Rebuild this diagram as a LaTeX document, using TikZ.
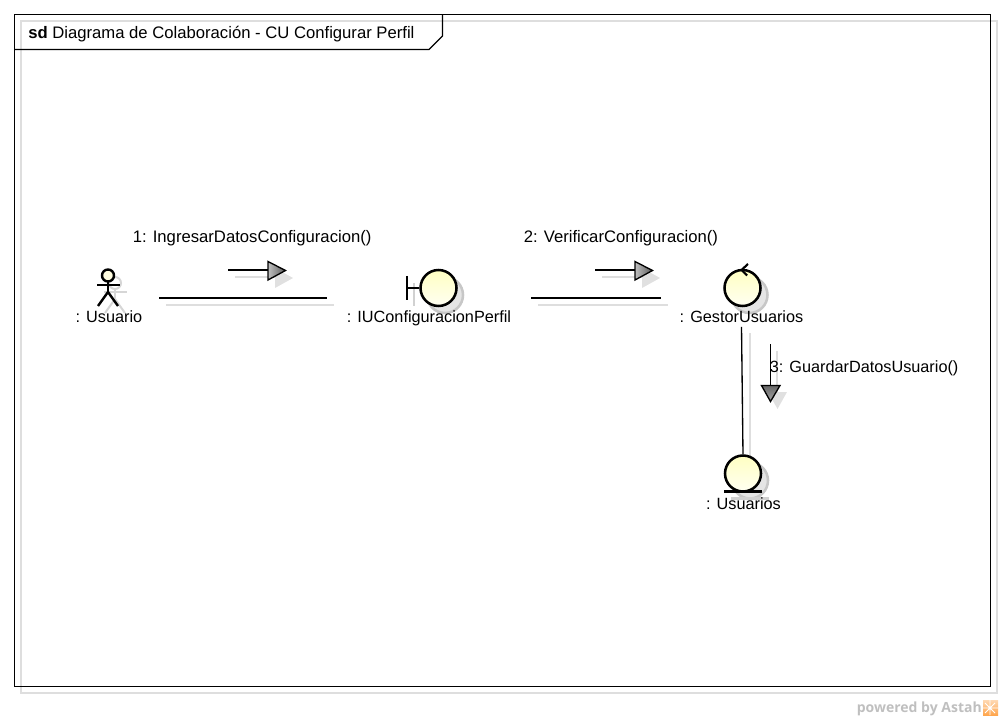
\documentclass[tikz,border=0pt]{standalone}
\usepackage{fontspec}
\setmainfont{Liberation Sans}
\newfontfamily\markfont{Open Sans}
\usetikzlibrary{shadings}
\tikzset{
  umlline/.style={line width=1pt,black},
  umlshadow/.style={line width=1pt,black!13},
  umlbox/.style={inner sep=0,outer sep=0,minimum height=1pt},
  umlicon/.style={circle,draw,line width=1.9pt,minimum size=27pt,inner sep=0,top color=yellow!24!white,bottom color=yellow!5!white},
  iconshadow/.style={circle,fill=black!10,draw=black!22,line width=1.9pt,minimum size=27pt,inner sep=0},
  umltext/.style={font=\fontsize{12.2pt}{14pt}\selectfont,inner sep=0,text depth=3pt},
  msgtext/.style={font=\fontsize{12.5pt}{14pt}\selectfont,inner sep=0,text depth=3pt,anchor=base west},
  msghead/.style={draw,line width=1pt},
  headshadow/.style={fill=black!12},
}
\begin{document}
\begin{tikzpicture}[x=.75pt,y=-.75pt]
  \useasboundingbox (0,0) rectangle (1003,720);
  % frame
  \draw[umlshadow] (21,21) rectangle (997,693);
  \draw[umlline] (14.5,14.5) rectangle (990.5,686.5);
  \draw[umlline] (14.5,49.5)--(429,49.5)--(442.5,36)--(442.5,14.5);
  \node[msgtext] (title) at (28,39) {\textbf{sd} Diagrama de Colaboración - CU Configurar Perfil};
  % boxes the links run between
  \node[umlbox,minimum width=75pt] (usuario) at (109,298) {};
  \node[umlbox,minimum width=153pt] (iu) at (429,298) {};
  \node[umlbox,minimum width=120.75pt] (gestor) at (741.5,298) {};
  % shadows
  \draw[umlshadow] ([shift={(7,7)}]usuario.east)--([shift={(7,7)}]iu.west);
  \draw[umlshadow] ([shift={(7,7)}]iu.east)--([shift={(7,7)}]gestor.west);
  \draw[umlshadow] (750,333)--(750,463);
  \foreach\x in {228,595} {
    \draw[umlshadow] (\x+7,277)--(\x+47,277);
    \fill[headshadow] (\x+47,268)--(\x+47,288)--(\x+65,278)--cycle;
  }
  \draw[umlshadow] (777,351)--(777,392);
  \fill[headshadow] (768,392)--(787,392)--(777.5,409)--cycle;
  \node[iconshadow] (iushadow) at (445,295) {};
  \node[iconshadow] (gestorshadow) at (749.5,295) {};
  \node[iconshadow] (usuariosshadow) at (750,480.5) {};
  \draw[line width=1.9pt,black!18] (414,283)--(414,306);
  \draw[line width=1.9pt,black!18] (731,498.5)--(769,498.5);
  \begin{scope}[black!16,line width=1.5pt]
    \draw (115,283) circle (6);
    \draw (115,289)--(115,299);
    \draw (104,292)--(127,292);
    \draw (105,313)--(115,299)--(125,313);
  \end{scope}
  % actor
  \begin{scope}[line width=1.8pt]
    \draw[fill=yellow!12] (108,275.5) circle (6);
    \draw (108,281.5)--(108,292);
    \draw (97,285)--(120,285);
    \draw (98,306)--(108,292)--(118,306);
  \end{scope}
  % boundary, control, entity
  \node[umlicon] (iuicon) at (438.5,288) {};
  \draw[line width=1.9pt] (iuicon.west)--(407,288);
  \draw[line width=1.9pt] (407,276)--(407,300);
  \node[umlicon] (gestoricon) at (742.5,288) {};
  \draw[line width=1.6pt] (748,264)--(741.5,270)--(747,275.5);
  \node[umlicon] (usuariosicon) at (743,473.5) {};
  \draw[line width=1.9pt] (724,491.5)--(762,491.5);
  % labels
  \node[umltext,anchor=base] (usuariotext) at (109,322.5) {: Usuario};
  \node[umltext,anchor=base] (iutext) at (429,322.5) {: IUConfiguracionPerfil};
  \node[umltext,anchor=base] (gestortext) at (741.5,322.5) {: GestorUsuarios};
  \node[umltext,anchor=base] (usuariostext) at (743.5,509.5) {: Usuarios};
  % links
  \draw[umlline] (usuario)--(iu);
  \draw[umlline] (iu)--(gestor);
  \draw[umlline] (gestortext.south)--(usuariosicon.north);
  % messages
  \foreach\x in {228,595} {
    \draw[umlline] (\x,270)--(\x+40,270);
    \draw[msghead,left color=black!25,right color=black!65] (\x+40,261.5)--(\x+40,280)--(\x+57.5,270.5)--cycle;
  }
  \draw[umlline] (770.5,344)--(770.5,385);
  \draw[msghead,top color=black!60,bottom color=black!35] (761.5,385.5)--(780,385.5)--(770.5,401.5)--cycle;
  \node[msgtext] (msgone) at (132.5,243) {1: IngresarDatosConfiguracion()};
  \node[msgtext] (msgtwo) at (523.5,243) {2: VerificarConfiguracion()};
  \node[umltext,anchor=base west] (msgthree) at (769.5,373) {3: GuardarDatosUsuario()};
  % watermark
  \node[anchor=east,inner sep=0,text=black!25,font=\markfont\bfseries\fontsize{10.5pt}{12pt}\selectfont] (powered) at (982,709) {powered by Astah};
  \shade[top color=orange!30,bottom color=orange!70] (983,700) rectangle (998,715);
  \draw[white,line width=.7pt] (990,700)--(990,715) (983,708)--(998,708) (985,703)--(995,713) (995,703)--(985,713);
\end{tikzpicture}
\end{document}
